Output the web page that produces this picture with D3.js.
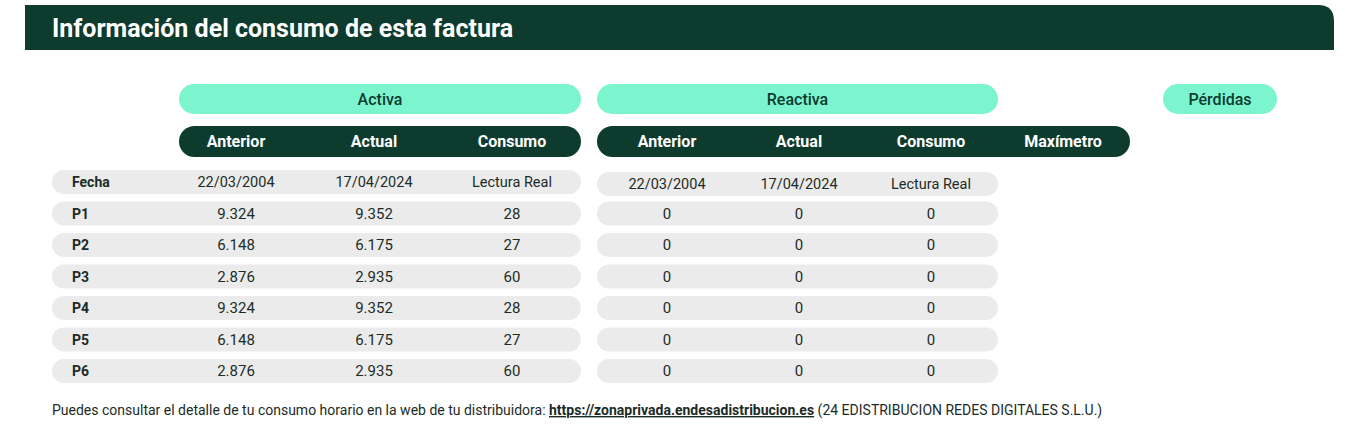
<!DOCTYPE html>
<html><head><meta charset="utf-8">
<script src="https://cdn.jsdelivr.net/npm/d3@7"></script>
<style>body{margin:0;background:#fff}svg{font-family:Roboto,sans-serif}</style>
</head><body><svg id="c" width="1366" height="434"></svg>
<script>
const title = "Información del consumo de esta factura";
const groups = ["Activa", "Reactiva", "Pérdidas"];
const leftCols = ["Anterior", "Actual", "Consumo"];
const rightCols = ["Anterior", "Actual", "Consumo", "Maxímetro"];
const rowLabels = ["Fecha", "P1", "P2", "P3", "P4", "P5", "P6"];
const activa = [
  ["22/03/2004", "17/04/2024", "Lectura Real"],
  ["9.324", "9.352", "28"],
  ["6.148", "6.175", "27"],
  ["2.876", "2.935", "60"],
  ["9.324", "9.352", "28"],
  ["6.148", "6.175", "27"],
  ["2.876", "2.935", "60"]
];
const reactiva = [
  ["22/03/2004", "17/04/2024", "Lectura Real"],
  ["0","0","0"],["0","0","0"],["0","0","0"],["0","0","0"],["0","0","0"],["0","0","0"]
];
const footer = "Puedes consultar el detalle de tu consumo horario en la web de tu distribuidora: ";
const link = "https://zonaprivada.endesadistribucion.es";
const footer2 = " (24 EDISTRIBUCION REDES DIGITALES S.L.U.)";

const DARK = "#0d3b2e", MINT = "#7cf5cf", GREY = "#ebebeb", TXT = "#1c2b26";
const svg = d3.select("#c");

// title bar with rounded top-right corner
const tb = {x0:25, x1:1334, y0:5, y1:50, r:16};
svg.append("path").attr("fill", DARK).attr("d",
  `M${tb.x0},${tb.y0} H${tb.x1-tb.r} Q${tb.x1},${tb.y0} ${tb.x1},${tb.y0+tb.r} V${tb.y1} H${tb.x0} Z`);
svg.append("text").attr("x",52).attr("y",37).attr("fill","#fff")
  .attr("font-size",25).attr("font-weight",700).text(title);

const xL = d3.scalePoint().domain(leftCols).range([236, 512]);
const xR = d3.scalePoint().domain(rightCols).range([667, 1063]);
const y = d3.scalePoint().domain(rowLabels).range([182, 371]);

// group pills
const gp = [{t:groups[0],x0:179,x1:581},{t:groups[1],x0:597,x1:998},{t:groups[2],x0:1163,x1:1277}];
gp.forEach(g=>{
  svg.append("rect").attr("x",g.x0).attr("y",84).attr("width",g.x1-g.x0).attr("height",30)
    .attr("rx",15).attr("fill",MINT);
  svg.append("text").attr("x",(g.x0+g.x1)/2).attr("y",105).attr("text-anchor","middle")
    .attr("fill",DARK).attr("font-size",16).attr("font-weight",500).text(g.t);
});
// dark header pills
[[179,581],[597,1130]].forEach(([a,b])=>svg.append("rect").attr("x",a).attr("y",126)
  .attr("width",b-a).attr("height",31).attr("rx",15.5).attr("fill",DARK));
leftCols.forEach(c=>svg.append("text").attr("x",xL(c)).attr("y",147).attr("text-anchor","middle")
  .attr("fill","#fff").attr("font-size",16).attr("font-weight",700).text(c));
rightCols.forEach(c=>svg.append("text").attr("x",xR(c)).attr("y",147).attr("text-anchor","middle")
  .attr("fill","#fff").attr("font-size",16).attr("font-weight",700).text(c));

// rows
rowLabels.forEach((r,i)=>{
  const yc = y(r), yr = yc + (i===0?2:0);
  svg.append("rect").attr("x",52).attr("y",yc-12).attr("width",529).attr("height",24)
    .attr("rx",12).attr("fill",GREY);
  svg.append("rect").attr("x",597).attr("y",yr-12).attr("width",401).attr("height",24)
    .attr("rx",12).attr("fill",GREY);
  svg.append("text").attr("x",72).attr("y",yc+5).attr("fill",TXT).attr("font-size",14)
    .attr("font-weight",700).text(r);
  activa[i].forEach((v,j)=>svg.append("text").attr("x",xL(leftCols[j])).attr("y",yc+5)
    .attr("text-anchor","middle").attr("fill",TXT).attr("font-size",i===0?14.5:15).text(v));
  reactiva[i].forEach((v,j)=>svg.append("text").attr("x",xR(rightCols[j])).attr("y",yr+5)
    .attr("text-anchor","middle").attr("fill",TXT).attr("font-size",i===0?14.5:15).text(v));
});

// footer
const ft = svg.append("text").attr("x",52).attr("y",415).attr("fill",TXT).attr("font-size",14);
ft.append("tspan").text(footer);
ft.append("tspan").attr("font-weight",700).attr("text-decoration","underline").text(link);
ft.append("tspan").text(footer2);
</script></body></html>
